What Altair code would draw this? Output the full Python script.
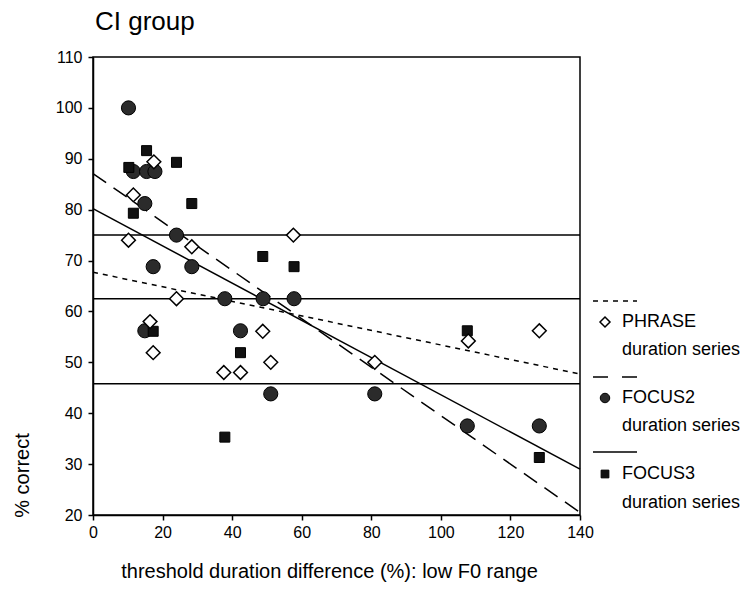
import altair as alt
import pandas as pd

FONT = "Liberation Sans"

# ---- data ----
x_ticks = [0, 20, 40, 60, 80, 100, 120, 140]
y_ticks = [20, 30, 40, 50, 60, 70, 80, 90, 100, 110]

phrase_x = [10.2, 11.6, 17.5, 28.4, 57.6, 24.0, 16.4, 17.3, 48.8, 51.1, 37.6, 42.4, 81.0, 107.9, 128.3]
phrase_y = [74.0, 82.9, 89.4, 72.7, 75.0, 62.5, 58.0, 51.9, 56.1, 50.0, 48.0, 48.0, 50.0, 54.2, 56.2]

focus2_x = [10.2, 11.6, 15.4, 17.8, 14.9, 24.0, 17.3, 28.4, 37.9, 48.9, 57.8, 14.9, 42.4, 51.1, 81.0, 107.6, 128.3]
focus2_y = [100.0, 87.5, 87.5, 87.5, 81.2, 75.0, 68.8, 68.8, 62.5, 62.5, 62.5, 56.2, 56.2, 43.8, 43.8, 37.5, 37.5]

focus3_x = [10.3, 15.4, 24.0, 28.4, 11.6, 48.8, 57.8, 17.3, 42.4, 37.9, 107.6, 128.3]
focus3_y = [88.3, 91.6, 89.3, 81.2, 79.3, 70.8, 68.8, 56.1, 51.9, 35.3, 56.2, 31.3]

trend_x = [0, 140]
phrase_fit = [67.7, 47.7]
focus2_fit = [87.1, 20.5]
focus3_fit = [80.2, 29.0]

ref_levels = [75.0, 62.5, 45.8]

# ---- encodings ----
xscale = alt.Scale(domain=[0, 140], nice=False, zero=False)
yscale = alt.Scale(domain=[20, 110], nice=False, zero=False)

xaxis = alt.Axis(values=x_ticks, grid=False, title="threshold duration difference (%): low F0 range",
                 titleX=236, titleY=56, titleAlign="center", titleBaseline="middle",
                 labelPadding=4, labelFlush=False)
yaxis = alt.Axis(values=y_ticks, grid=False, title="% correct",
                 titleX=-71, titleY=418, titleAngle=-90, titleAlign="center",
                 titleBaseline="middle", labelPadding=6, labelFlush=False)

X = alt.X("x:Q", scale=xscale, axis=xaxis)
Y = alt.Y("y:Q", scale=yscale, axis=yaxis)


def df(xs, ys):
    return pd.DataFrame({"x": xs, "y": ys})


refs = alt.Chart(pd.DataFrame({"y": ref_levels})).mark_rule(color="black", strokeWidth=1.5).encode(y=Y)

line_phrase = alt.Chart(df(trend_x, phrase_fit)).mark_line(
    color="black", strokeWidth=1.5, strokeDash=[5, 5]).encode(x=X, y=Y)
line_focus2 = alt.Chart(df(trend_x, focus2_fit)).mark_line(
    color="black", strokeWidth=1.5, strokeDash=[16, 9]).encode(x=X, y=Y)
line_focus3 = alt.Chart(df(trend_x, focus3_fit)).mark_line(
    color="black", strokeWidth=1.5).encode(x=X, y=Y)

pts_focus2 = alt.Chart(df(focus2_x, focus2_y)).mark_point(
    shape="circle", filled=True, fill="#2b2b2b", stroke="black", strokeWidth=1,
    size=200, opacity=1).encode(x=X, y=Y)
pts_focus3 = alt.Chart(df(focus3_x, focus3_y)).mark_point(
    shape="square", filled=True, fill="#111111", stroke="black", strokeWidth=1,
    size=100, opacity=1).encode(x=X, y=Y)
pts_phrase = alt.Chart(df(phrase_x, phrase_y)).mark_point(
    shape="diamond", filled=True, fill="white", stroke="black", strokeWidth=1.5,
    size=190, opacity=1).encode(x=X, y=Y)

one = pd.DataFrame({"a": [0]})


def txt(s, x, y, size=18, align="left", baseline="middle"):
    return alt.Chart(one).mark_text(text=s, font=FONT, fontSize=size, color="black",
                                    align=align, baseline=baseline).encode(
        x=alt.value(x), y=alt.value(y))


def leg_line(y, dash=None):
    kw = dict(color="black", strokeWidth=1.5)
    if dash:
        kw["strokeDash"] = dash
    return alt.Chart(one).mark_rule(**kw).encode(
        x=alt.value(500), x2=alt.value(544), y=alt.value(y))


def leg_pt(y, shape, fill, size, sw=1):
    return alt.Chart(one).mark_point(shape=shape, filled=True, fill=fill, stroke="black",
                                     strokeWidth=sw, size=size, opacity=1).encode(
        x=alt.value(512), y=alt.value(y))


legend = [
    leg_line(244, [5, 5]),
    leg_pt(265, "diamond", "white", 100, 1.5),
    txt("PHRASE", 529, 265),
    txt("duration series", 529, 293),
    leg_line(320, [15, 14]),
    leg_pt(341, "circle", "#2b2b2b", 90),
    txt("FOCUS2", 529, 341),
    txt("duration series", 529, 369),
    leg_line(395),
    leg_pt(417, "square", "#111111", 60),
    txt("FOCUS3", 529, 417),
    txt("duration series", 529, 446),
    txt("CI group", 2, -27, size=26, baseline="alphabetic"),
]

chart = alt.layer(
    refs, line_phrase, line_focus2, line_focus3, pts_focus2, pts_focus3, pts_phrase, *legend
).properties(
    width=487, height=458,
    autosize=alt.AutoSizeParams(type="none"),
    padding={"left": 93, "top": 57, "right": 169, "bottom": 88},
    background="white",
).configure_view(
    stroke="black", strokeWidth=1.5
).configure_axis(
    domainColor="black", domainWidth=1.5, tickColor="black", tickWidth=1.5, tickSize=5,
    labelFont=FONT, labelFontSize=16, labelColor="black",
    titleFont=FONT, titleFontSize=20, titleColor="black", titleFontWeight="normal",
)

chart.save("out.html", embed_options={"renderer": "svg", "actions": False})
